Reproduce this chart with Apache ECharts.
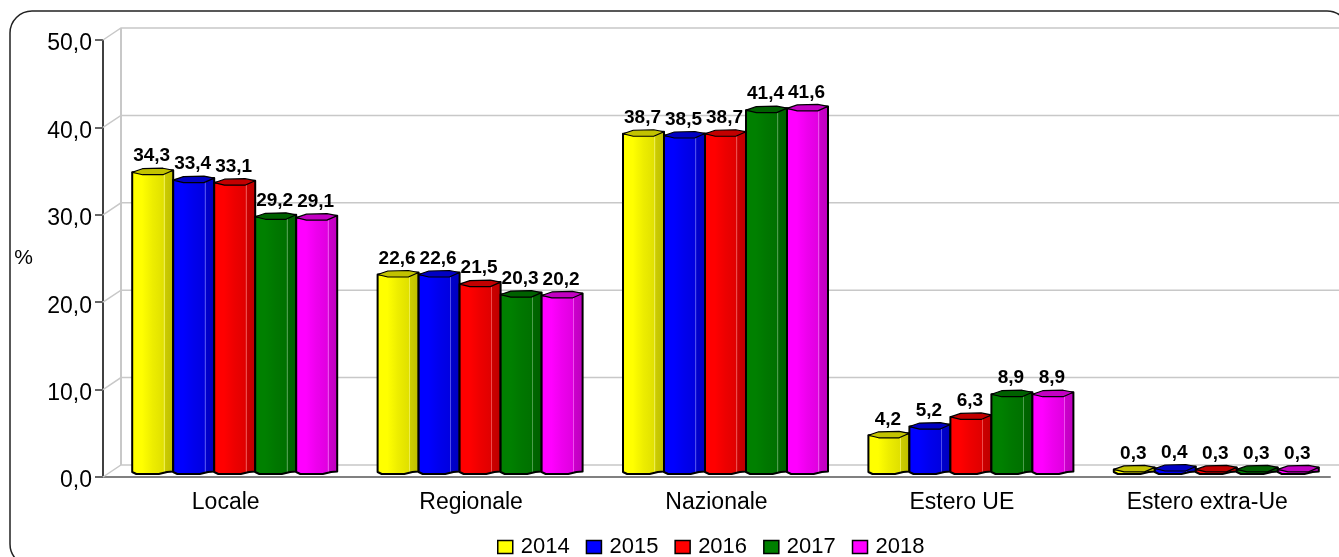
<!DOCTYPE html>
<html>
<head>
<meta charset="utf-8">
<title>Grafico</title>
<style>
html, body { margin: 0; padding: 0; background: #fff; }
#main { width: 1339px; height: 557px; }
</style>
<script src="https://cdn.jsdelivr.net/npm/echarts@6/dist/echarts.min.js"></script>
</head>
<body>
<div id="main"></div>
<script type="text/javascript">
var categories = ['Locale', 'Regionale', 'Nazionale', 'Estero UE', 'Estero extra-Ue'];
var years = ['2014', '2015', '2016', '2017', '2018'];
var values2014 = [34.3, 22.6, 38.7, 4.2, 0.3];
var values2015 = [33.4, 22.6, 38.5, 5.2, 0.4];
var values2016 = [33.1, 21.5, 38.7, 6.3, 0.3];
var values2017 = [29.2, 20.3, 41.4, 8.9, 0.3];
var values2018 = [29.1, 20.2, 41.6, 8.9, 0.3];
var yearValues = [values2014, values2015, values2016, values2017, values2018];
var yTicks = [0, 10, 20, 30, 40, 50];
var colors = ['#ffff00', '#0000ff', '#ff0000', '#008000', '#ff00ff'];

var fontName = '"Liberation Sans", Arial, sans-serif';
// finta profondita' del grafico 3D
var wallX = 18, wallY = 12;
var barWidth = 41;

function comma(v) {
    return v.toFixed(1).replace('.', ',');
}

// f < 1 scurisce, mix > 0 schiarisce verso il bianco
function shade(hex, f, mix) {
    var n = parseInt(hex.slice(1), 16);
    var m = mix || 0;
    var rgb = [n >> 16 & 255, n >> 8 & 255, n & 255].map(function (c) {
        return Math.round(c * f + (255 - c * f) * m);
    });
    return 'rgb(' + rgb.join(',') + ')';
}

function barFill(color) {
    return new echarts.graphic.LinearGradient(0, 0, 1, 0, [
        { offset: 0, color: shade(color, 1) },
        { offset: 0.25, color: shade(color, 1) },
        { offset: 0.5, color: shade(color, 0.93) },
        { offset: 0.75, color: shade(color, 0.88) },
        { offset: 0.755, color: shade(color, 0.9, 0.3) },
        { offset: 0.775, color: shade(color, 0.9, 0.3) },
        { offset: 0.78, color: shade(color, 0.8) },
        { offset: 1, color: shade(color, 0.74) }
    ]);
}

function renderBar(yearIndex) {
    return function (params, api) {
        var cat = api.value(0), val = api.value(1);
        var cx = api.coord([cat, 0])[0] + wallX / 2;
        var base = api.coord([cat, 0])[1] - wallY / 2;
        var cy = api.coord([cat, val])[1] - wallY / 2;
        var x0 = cx + (yearIndex - 2.5) * barWidth;
        var w = barWidth, x1 = x0 + w;
        var color = colors[yearIndex];
        var edge = { stroke: '#000', lineWidth: 2, lineJoin: 'round' };
        return {
            type: 'group',
            children: [{
                type: 'polygon',
                shape: { points: [
                    [x0, cy + 1], [x1, cy - 1], [x1, base + 0.5], [x0 + 0.85 * w, base + 1],
                    [x0 + 0.65 * w, base + 3], [x0 + 0.1 * w, base + 3], [x0, base + 1]
                ] },
                style: Object.assign({ fill: barFill(color) }, edge)
            }, {
                type: 'polygon',
                shape: { points: [
                    [x0, cy + 1], [x0 + 0.25 * w, cy - 2.5], [x0 + 0.75 * w, cy - 3], [x1, cy - 1],
                    [x0 + 0.75 * w, cy + 3.5], [x0 + 0.25 * w, cy + 3.5]
                ] },
                style: Object.assign({ fill: shade(color, 0.76) }, edge, { lineWidth: 1.2 })
            }, {
                type: 'text',
                z2: 10,
                style: {
                    x: x0 + w / 2 - 1, y: cy - 15,
                    text: comma(val),
                    fill: '#000',
                    font: 'bold 19px ' + fontName,
                    align: 'center', verticalAlign: 'middle'
                }
            }]
        };
    };
}

// griglia sul fondo: diagonale sulla parete di lato + linea sulla parete di fondo
function renderWall(params, api) {
    var p = api.coord([0, api.value(1)]);
    var x = p[0] - api.size([1, 0])[0] / 2, y = p[1];
    var children = [{
        type: 'polyline',
        shape: { points: [[x, y], [x + wallX, y - wallY], [api.getWidth(), y - wallY]] },
        style: { fill: null, stroke: '#c8c8c8', lineWidth: 1.5 }
    }];
    if (api.value(1) === yTicks[0]) {
        var top = api.coord([0, yTicks[yTicks.length - 1]])[1];
        children.push({
            type: 'line',
            shape: { x1: x + wallX, y1: y - wallY, x2: x + wallX, y2: top - wallY },
            style: { stroke: '#c8c8c8', lineWidth: 2 }
        });
    }
    return { type: 'group', children: children };
}

var series = [{
    name: 'wall',
    type: 'custom',
    z: 1,
    silent: true,
    renderItem: renderWall,
    encode: { x: 0, y: 1 },
    data: yTicks.map(function (t) { return [0, t]; })
}];
years.forEach(function (year, i) {
    series.push({
        name: year,
        type: 'custom',
        z: 2 + i,
        renderItem: renderBar(i),
        encode: { x: 0, y: 1 },
        itemStyle: { color: colors[i] },
        data: yearValues[i].map(function (v, c) { return [c, v]; })
    });
});

var myChart = echarts.init(document.getElementById('main'));
var option = {
    animation: false,
    textStyle: { fontFamily: fontName },
    graphic: [{
        type: 'rect',
        silent: true,
        shape: { x: 10, y: 11, width: 1339, height: 555, r: 22 },
        style: { fill: null, stroke: '#222', lineWidth: 1.5 }
    }],
    grid: { left: 103, right: 9, top: 40, bottom: 80 },
    legend: {
        left: 492,
        top: 531,
        itemWidth: 15,
        itemHeight: 13,
        itemGap: 16,
        icon: 'rect',
        selectedMode: false,
        textStyle: { fontFamily: fontName, fontSize: 22, color: '#000', padding: [0, 0, 0, 3] },
        data: years.map(function (y, i) {
            return { name: y, itemStyle: { color: colors[i], borderColor: '#000', borderWidth: 1.5 } };
        })
    },
    xAxis: {
        type: 'category',
        data: categories,
        axisLine: { lineStyle: { color: '#808080', width: 2 } },
        axisTick: { length: 8, lineStyle: { color: '#000', width: 1 } },
        axisLabel: { fontFamily: fontName, fontSize: 23, color: '#000', margin: 14 }
    },
    yAxis: {
        type: 'value',
        min: 0,
        max: 50,
        interval: 10,
        name: '%',
        nameLocation: 'middle',
        nameRotate: 0,
        nameGap: 70,
        nameTextStyle: { fontFamily: fontName, fontSize: 21, color: '#000' },
        splitLine: { show: false },
        axisLine: { show: true, lineStyle: { color: '#000', width: 1.5 } },
        axisTick: { show: true, length: 8, lineStyle: { color: '#666', width: 2 } },
        axisLabel: {
            fontFamily: fontName, fontSize: 23, color: '#000', margin: 11,
            verticalAlign: 'top',
            lineHeight: 8,
            formatter: function (v) { return comma(v); }
        }
    },
    series: series
};
myChart.setOption(option);
</script>
</body>
</html>
